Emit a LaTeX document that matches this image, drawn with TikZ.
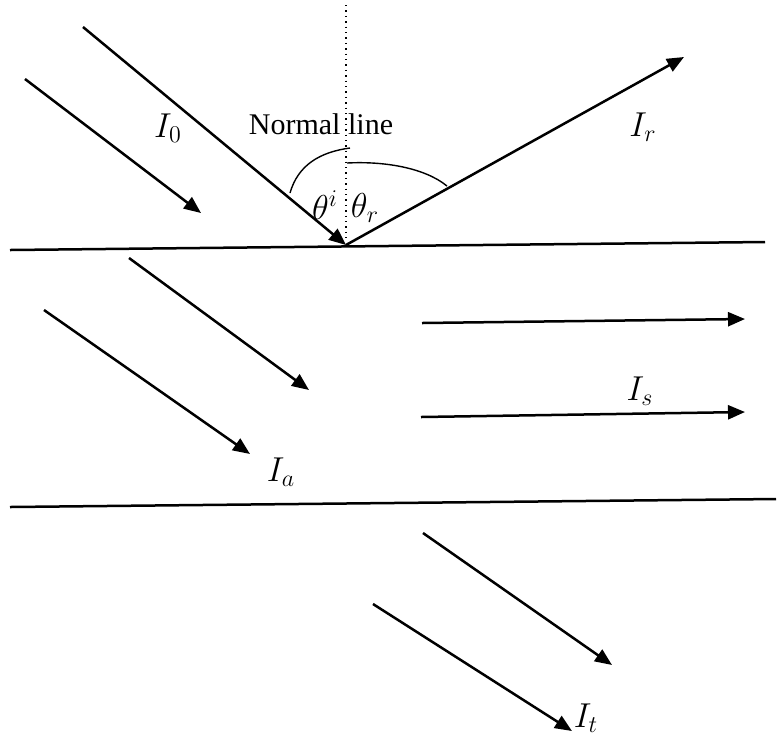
\documentclass[tikz,border=0pt]{standalone}
\usepackage{fontspec}
\setmainfont{Liberation Serif}
\usetikzlibrary{arrows.meta}
\begin{document}
\begin{tikzpicture}[x=0.5pt,y=-0.5pt,
  ray/.style={line width=1.25pt,-{Triangle[length=8.5pt,width=7pt]}},
  surf/.style={line width=1.25pt},
  arcl/.style={line width=0.7pt},
  lbl/.style={inner sep=0pt,font=\fontsize{15pt}{18pt}\selectfont},
  mlbl/.style={inner sep=0pt,font=\fontsize{16.5pt}{19pt}\selectfont}]
\useasboundingbox (0,0) rectangle (777,736);
% surfaces
\coordinate (s1a) at (10,250); \coordinate (s1b) at (765,242);
\coordinate (s2a) at (10,507); \coordinate (s2b) at (776,499);
\draw[surf] (s1a) -- (s1b);
\draw[surf] (s2a) -- (s2b);
% normal line
\coordinate (nt) at (346,5); \coordinate (nb) at (346,238);
\draw[dotted,line width=0.7pt] (nt) -- (nb);
% incident
\coordinate (i1s) at (83,27); \coordinate (hit) at (346,245);
\coordinate (i2s) at (25,79); \coordinate (i2e) at (201,213);
\draw[ray] (i1s) -- (hit);
\draw[ray] (i2s) -- (i2e);
% reflected
\coordinate (rt) at (684,57);
\draw[ray] (hit) -- (rt);
% angle arcs
\coordinate (a1s) at (290,193); \coordinate (a1e) at (350,148);
\draw[arcl] (a1s) .. controls (298,165) and (320,152) .. (a1e);
\coordinate (a2s) at (347,163); \coordinate (a2e) at (447,186);
\draw[arcl] (a2s) .. controls (385,161) and (425,168) .. (a2e);
% absorbed
\coordinate (a3s) at (129,258); \coordinate (a3e) at (309,390);
\coordinate (a4s) at (44,310); \coordinate (a4e) at (250,454);
\draw[ray] (a3s) -- (a3e);
\draw[ray] (a4s) -- (a4e);
% scattered
\coordinate (h1s) at (422,323); \coordinate (h1e) at (745,319);
\coordinate (h2s) at (421,417); \coordinate (h2e) at (745,412);
\draw[ray] (h1s) -- (h1e);
\draw[ray] (h2s) -- (h2e);
% transmitted
\coordinate (t1s) at (423,533); \coordinate (t1e) at (612,665);
\coordinate (t2s) at (373,604); \coordinate (t2e) at (572,731);
\draw[ray] (t1s) -- (t1e);
\draw[ray] (t2s) -- (t2e);
% labels
\node[mlbl] (l0) at (168,128) {$I_0$};
\node[lbl] (nl) at (321,124) {Normal line};
\node[mlbl] (lr) at (643,127) {$I_r$};
\node[mlbl] (ti) at (325,205) {$\theta^{i}$};
\node[mlbl] (tr) at (365,208) {$\theta_r$};
\node[mlbl] (la) at (281,472) {$I_a$};
\node[mlbl] (ls) at (640,391) {$I_s$};
\node[mlbl] (lt) at (586,718) {$I_t$};
\end{tikzpicture}
\end{document}
